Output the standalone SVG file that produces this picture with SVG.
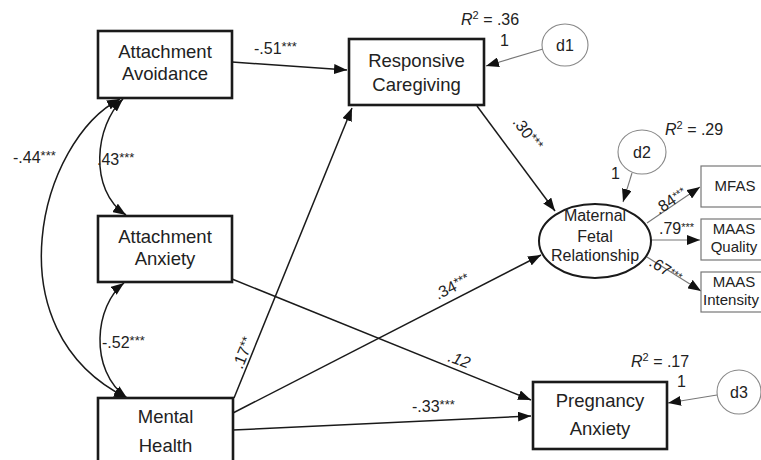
<svg xmlns="http://www.w3.org/2000/svg" width="761" height="460" viewBox="0 0 761 460">
<style>
.box{fill:#fff;stroke:#1a1a1a;stroke-width:2.6}
.obs{fill:#fff;stroke:#777;stroke-width:1.2}
.lat{fill:#fff;stroke:#1a1a1a;stroke-width:2}
.err{fill:#fff;stroke:#888;stroke-width:1.1}
.t{font-family:"Liberation Sans",Arial,sans-serif;fill:#222}
.n{font-size:18.5px;text-anchor:middle}
.m{font-size:16px;text-anchor:middle}
.s{font-size:15px;text-anchor:middle}
.c{font-size:16px}
.ln{fill:none;stroke:#1a1a1a;stroke-width:1.5}
.lg{fill:none;stroke:#777;stroke-width:1.1}
</style>
<defs>
<marker id="ah" markerUnits="userSpaceOnUse" markerWidth="14" markerHeight="10" refX="13" refY="5" orient="auto-start-reverse">
<path d="M0,0 L13,5 L0,10 Z" fill="#111"/>
</marker>
</defs>
<g id="connectors">
<path class="ln" d="M232,62 L347,70" marker-end="url(#ah)"/>
<path class="ln" d="M234,398 L352,108" marker-end="url(#ah)"/>
<path class="ln" d="M233,413 L541,255" marker-end="url(#ah)"/>
<path class="ln" d="M233,430 L531,416" marker-end="url(#ah)"/>
<path class="ln" d="M232,279 L531,400" marker-end="url(#ah)"/>
<path class="ln" d="M477,106 L555,211" marker-end="url(#ah)"/>
<path class="lg" d="M543,49 L486,66" marker-end="url(#ah)"/>
<path class="lg" d="M632,173 L623,202" marker-end="url(#ah)"/>
<path class="lg" d="M717,395 L668,403" marker-end="url(#ah)"/>
<path class="lg" d="M647,223 L700,187" marker-end="url(#ah)"/>
<path class="lg" d="M651,240 L700,240" marker-end="url(#ah)"/>
<path class="lg" d="M647,257 L701,291" marker-end="url(#ah)"/>
<path class="ln" d="M123,99 C95,125 88,190 126,215" marker-start="url(#ah)" marker-end="url(#ah)"/>
<path class="ln" d="M124,283 C95,305 88,370 127,398" marker-start="url(#ah)" marker-end="url(#ah)"/>
<path class="ln" d="M120,99 C40,140 -10,330 127,398" marker-start="url(#ah)" marker-end="url(#ah)"/>
</g>
<g id="labels">
<text class="t c" x="254" y="54">-.51<tspan font-size="13" dy="-3">***</tspan></text>
<text class="t c" x="97" y="165">.43<tspan font-size="13" dy="-3">***</tspan></text>
<text class="t c" x="13" y="163">-.44<tspan font-size="13" dy="-3">***</tspan></text>
<text class="t c" x="102" y="348">-.52<tspan font-size="13" dy="-3">***</tspan></text>
<text class="t c" x="412" y="412">-.33<tspan font-size="13" dy="-3">***</tspan></text>
<text class="t c" transform="translate(242,370) rotate(-68)">.17<tspan font-size="13" dy="-3">**</tspan></text>
<text class="t c" transform="translate(438,300) rotate(-27)">.34<tspan font-size="13" dy="-3">***</tspan></text>
<text class="t c" font-style="italic" transform="translate(447,361) rotate(20)">.12</text>
<text class="t c" transform="translate(512,122) rotate(53)">.30<tspan font-size="13" dy="-3">***</tspan></text>
<text class="t c" font-size="14" transform="translate(659,215) rotate(-34)">.84<tspan font-size="11" dy="-3">***</tspan></text>
<text class="t c" font-size="14" x="659" y="234">.79<tspan font-size="11" dy="-3">***</tspan></text>
<text class="t c" font-size="14" transform="translate(648,265) rotate(32)">.67<tspan font-size="11" dy="-3">***</tspan></text>
<text class="t" font-size="16" x="461" y="25"><tspan font-style="italic">R</tspan><tspan font-size="11" dy="-6">2</tspan><tspan dy="6"> = .36</tspan></text>
<text class="t" font-size="16" x="500" y="46">1</text>
<text class="t" font-size="16" x="665" y="135"><tspan font-style="italic">R</tspan><tspan font-size="11" dy="-6">2</tspan><tspan dy="6"> = .29</tspan></text>
<text class="t" font-size="16" x="611" y="179">1</text>
<text class="t" font-size="16" x="631" y="367"><tspan font-style="italic">R</tspan><tspan font-size="11" dy="-6">2</tspan><tspan dy="6"> = .17</tspan></text>
<text class="t" font-size="16" x="677" y="387">1</text>
</g>
<g id="attachment-avoidance">
<rect class="box" x="98" y="31" width="134" height="67"/>
<text class="t n" x="165" y="58">Attachment</text>
<text class="t n" x="165" y="80">Avoidance</text>
</g>
<g id="attachment-anxiety">
<rect class="box" x="98" y="216" width="134" height="66"/>
<text class="t n" x="165" y="243">Attachment</text>
<text class="t n" x="165" y="265">Anxiety</text>
</g>
<g id="mental-health">
<rect class="box" x="98" y="398" width="135" height="80"/>
<text class="t n" x="165.5" y="423">Mental</text>
<text class="t n" x="165.5" y="452">Health</text>
</g>
<g id="responsive-caregiving">
<rect class="box" x="349" y="39" width="135" height="66"/>
<text class="t n" x="416.5" y="67">Responsive</text>
<text class="t n" x="416.5" y="91">Caregiving</text>
</g>
<g id="pregnancy-anxiety">
<rect class="box" x="533" y="382" width="134" height="67"/>
<text class="t n" x="600" y="407">Pregnancy</text>
<text class="t n" x="600" y="435">Anxiety</text>
</g>
<g id="maternal-fetal-relationship">
<ellipse class="lat" cx="595" cy="241" rx="56" ry="37"/>
<text class="t m" x="595" y="221">Maternal</text>
<text class="t m" x="595" y="242">Fetal</text>
<text class="t m" x="595" y="261">Relationship</text>
</g>
<g id="mfas">
<rect class="obs" x="701" y="166" width="68" height="41"/>
<text class="t s" x="735" y="191">MFAS</text>
</g>
<g id="maas-quality">
<rect class="obs" x="701" y="219" width="68" height="41"/>
<text class="t s" x="734" y="234">MAAS</text>
<text class="t s" x="734" y="252">Quality</text>
</g>
<g id="maas-intensity">
<rect class="obs" x="701" y="272" width="68" height="40"/>
<text class="t s" x="734" y="287">MAAS</text>
<text class="t s" x="731" y="305">Intensity</text>
</g>
<g id="d1">
<ellipse class="err" cx="565" cy="45" rx="23" ry="21"/>
<text class="t m" x="565" y="51">d1</text>
</g>
<g id="d2">
<ellipse class="err" cx="642" cy="152" rx="24" ry="22"/>
<text class="t m" x="642" y="158">d2</text>
</g>
<g id="d3">
<ellipse class="err" cx="739" cy="392" rx="22" ry="22"/>
<text class="t m" x="739" y="398">d3</text>
</g>
</svg>
